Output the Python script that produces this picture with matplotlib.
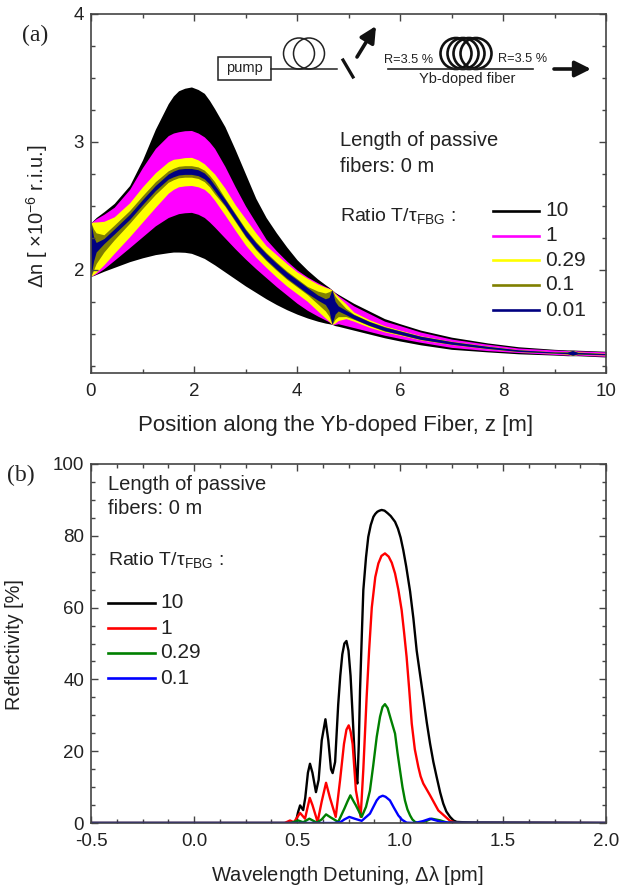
#!/usr/bin/env python3
"""Two panel figure: index change envelopes (a) and reflectivity spectra (b)."""

import matplotlib
matplotlib.use("Agg")
import matplotlib.pyplot as plt
from matplotlib.lines import Line2D
from matplotlib.patches import Circle, Rectangle
from matplotlib.ticker import MultipleLocator
from matplotlib.transforms import Affine2D

plt.rcParams["font.family"] = ["Liberation Sans", "DejaVu Sans"]
plt.rcParams["mathtext.default"] = "regular"
plt.rcParams["axes.unicode_minus"] = False

# panel (a): upper / lower envelope of the index change for each ratio
z_pos = [0, .05, .1, .25, .45, .75, 1, 1.25, 1.5, 1.6, 1.7, 1.82, 1.95, 2.08, 2.2, 2.3, 2.4, 2.6, 2.8, 3, 3.2, 3.4, 3.6, 3.8, 4,
         4.2, 4.4, 4.55, 4.62, 4.68, 4.74, 4.8, 4.95, 5.1, 5.4, 5.7, 6, 6.4, 7, 7.7, 8.3, 9, 9.25, 9.35, 9.45, 10]
upper_10 = [2.37, 2.39, 2.41, 2.455, 2.52, 2.66, 2.86, 3.10, 3.30, 3.36, 3.40, 3.42, 3.43, 3.41, 3.38, 3.325, 3.26, 3.12, 2.94, 2.75, 2.56, 2.41, 2.29, 2.18, 2.08,
            2.00, 1.93, 1.885, 1.865, 1.845, 1.825, 1.81, 1.775, 1.74, 1.68, 1.62, 1.58, 1.53, 1.475, 1.43, 1.40, 1.38, 1.375, 1.375, 1.373, 1.365]
upper_1 = [2.37, 2.385, 2.40, 2.435, 2.49, 2.63, 2.80, 2.95, 3.05, 3.07, 3.08, 3.088, 3.09, 3.07, 3.04, 3.0, 2.95, 2.81, 2.65, 2.50, 2.37, 2.24, 2.15, 2.07, 2.00,
           1.945, 1.90, 1.87, 1.858, 1.845, 1.82, 1.80, 1.76, 1.72, 1.66, 1.60, 1.565, 1.515, 1.46, 1.42, 1.39, 1.375, 1.37, 1.372, 1.368, 1.36]
upper_029 = [2.37, 2.375, 2.375, 2.38, 2.415, 2.525, 2.65, 2.76, 2.845, 2.865, 2.87, 2.878, 2.88, 2.86, 2.83, 2.79, 2.75, 2.64, 2.51, 2.40, 2.29, 2.19, 2.12, 2.05, 1.985,
             1.935, 1.89, 1.865, 1.855, 1.845, 1.815, 1.79, 1.735, 1.672, 1.612, 1.564, 1.53, 1.486, 1.442, 1.405, 1.377, 1.36, 1.362, 1.372, 1.36, 1.348]
upper_01 = [2.37, 2.32, 2.29, 2.275, 2.35, 2.465, 2.58, 2.69, 2.775, 2.795, 2.81, 2.815, 2.815, 2.805, 2.78, 2.74, 2.69, 2.562, 2.442, 2.322, 2.222, 2.137, 2.062, 1.992, 1.932,
            1.872, 1.835, 1.82, 1.83, 1.845, 1.795, 1.765, 1.70, 1.655, 1.60, 1.558, 1.525, 1.483, 1.441, 1.404, 1.376, 1.36, 1.36, 1.372, 1.358, 1.347]
upper_001 = [2.37, 2.26, 2.215, 2.245, 2.32, 2.435, 2.55, 2.66, 2.75, 2.772, 2.788, 2.793, 2.793, 2.783, 2.758, 2.718, 2.663, 2.553, 2.433, 2.313, 2.213, 2.128, 2.053, 1.983, 1.923,
             1.863, 1.805, 1.775, 1.785, 1.845, 1.755, 1.72, 1.685, 1.651, 1.597, 1.554, 1.523, 1.482, 1.44, 1.403, 1.376, 1.359, 1.358, 1.371, 1.356, 1.346]
lower_001 = [1.95, 2.07, 2.14, 2.205, 2.28, 2.395, 2.51, 2.62, 2.71, 2.728, 2.742, 2.747, 2.747, 2.737, 2.712, 2.672, 2.617, 2.507, 2.387, 2.267, 2.167, 2.082, 2.007, 1.937, 1.877,
             1.817, 1.765, 1.73, 1.685, 1.575, 1.655, 1.68, 1.651, 1.619, 1.568, 1.526, 1.497, 1.458, 1.42, 1.387, 1.364, 1.351, 1.346, 1.334, 1.344, 1.338]
lower_01 = [1.95, 2.0, 2.05, 2.14, 2.235, 2.365, 2.48, 2.59, 2.685, 2.705, 2.72, 2.725, 2.725, 2.715, 2.69, 2.65, 2.595, 2.498, 2.378, 2.258, 2.158, 2.073, 1.998, 1.928, 1.868,
            1.808, 1.735, 1.68, 1.64, 1.575, 1.615, 1.635, 1.636, 1.615, 1.565, 1.522, 1.495, 1.457, 1.419, 1.386, 1.363, 1.35, 1.344, 1.332, 1.342, 1.337]
lower_029 = [1.95, 1.965, 1.98, 2.04, 2.13, 2.26, 2.375, 2.49, 2.60, 2.63, 2.65, 2.657, 2.66, 2.65, 2.63, 2.595, 2.545, 2.43, 2.31, 2.195, 2.10, 2.02, 1.945, 1.875, 1.815,
             1.755, 1.68, 1.625, 1.60, 1.575, 1.585, 1.605, 1.62, 1.60, 1.553, 1.516, 1.49, 1.454, 1.418, 1.385, 1.363, 1.35, 1.342, 1.332, 1.34, 1.336]
lower_1 = [1.95, 1.96, 1.97, 2.01, 2.075, 2.175, 2.26, 2.345, 2.41, 2.425, 2.44, 2.447, 2.45, 2.435, 2.41, 2.375, 2.335, 2.25, 2.165, 2.085, 2.01, 1.94, 1.87, 1.805, 1.74,
           1.685, 1.64, 1.61, 1.595, 1.575, 1.575, 1.58, 1.565, 1.55, 1.52, 1.49, 1.465, 1.435, 1.395, 1.37, 1.355, 1.34, 1.335, 1.332, 1.335, 1.325]
lower_10 = [1.95, 1.957, 1.965, 1.99, 2.02, 2.065, 2.095, 2.12, 2.135, 2.14, 2.14, 2.138, 2.13, 2.11, 2.09, 2.065, 2.04, 1.985, 1.93, 1.875, 1.825, 1.775, 1.73, 1.69, 1.655,
            1.625, 1.60, 1.585, 1.58, 1.575, 1.565, 1.56, 1.545, 1.53, 1.50, 1.47, 1.445, 1.415, 1.38, 1.36, 1.345, 1.335, 1.33, 1.33, 1.33, 1.32]

ratio_labels_a = ["10", "1", "0.29", "0.1", "0.01"]
band_colors = ["black", "#ff00ff", "#ffff00", "#808000", "#000080"]

# panel (b): reflectivity spectra
wl_10 = [-0.5, .45, .48, .495, .505, .515, .53, .54, .553, .563, .575, .592, .605, .62, .638, .652, .665, .673, .685, .7, .71, .72, .73, .74, .75, .76, .77,
         .78, .787, .793, .80, .806, .815, .822, .835, .846, .858, .871, .88, .89, .9, .911, .925, .94, .955, .976, .99, 1.003, 1.016, 1.03, 1.049, 1.065, 1.081, 1.097,
         1.113, 1.13, 1.146, 1.162, 1.178, 1.195, 1.21, 1.225, 1.243, 1.26, 1.275, 1.35, 2.0]
refl_10 = [0, 0, .1, .4, 3, 4.9, 3.6, 7, 14, 16.5, 14, 8.6, 12, 23, 28.9, 23, 15, 13.9, 17, 33, 41, 47, 50, 50.7, 48, 41, 30,
           18.5, 12.5, 11, 22, 37, 53, 64.9, 74, 79.7, 83, 85.3, 86.1, 86.7, 87, 87.2, 87, 86.3, 85.5, 83.9, 82, 79.5, 76, 71.5, 64.5, 57, 48, 41.5,
           35.1, 28, 22.1, 17, 12.8, 8.5, 5.4, 3.2, 1.7, .7, .3, .1, 0]
wl_1 = [-0.5, .44, .466, .485, .5, .515, .539, .55, .562, .575, .6, .62, .641, .66, .688, .709, .728, .74, .751, .76, .77, .786, .809, .822, .83, .838, .85, .863, .88,
        .895, .91, .927, .945, .96, .976, .992, 1.008, 1.02, 1.032, 1.045, 1.057, 1.072, 1.089, 1.10, 1.113, 1.146, 1.186, 1.243, 1.27, 2.0]
refl_1 = [0, 0, .7, .2, 1.5, 2.8, 1.2, 4, 7, 5, .3, 6, 11.2, 7, 1.7, 11.9, 22, 26, 27.2, 25.5, 22, 9.1, 1.7, 15, 25, 35, 48, 60, 68.5,
          72.3, 74.4, 75.1, 74.2, 72.5, 69.5, 65, 59.3, 53, 46.3, 37, 27.7, 20.5, 15.6, 13, 11, 7.7, 3.5, .6, .1, 0]
wl_029 = [-0.5, .47, .506, .53, .56, .596, .62, .641, .665, .7, .73, .745, .759, .775, .785, .814, .835, .854, .87, .887, .903, .915, .927, .94, .955, .976, .988, 1.0,
          1.012, 1.024, 1.036, 1.049, 1.06, 1.073, 1.09, 1.12, 1.154, 1.194, 1.23, 2.0]
refl_029 = [0, 0, .7, .2, 1.2, .1, 1, 2.4, 1.5, .3, 4, 6, 7.7, 6, 5, 1.7, 4.5, 9, 16, 24, 29.6, 32.3, 33.1, 32, 29, 24.9, 19.5, 14.7,
            10, 6.3, 3.8, 2.1, 1, .3, 0, .4, 1.2, .75, .1, 0]
wl_01 = [-0.5, .68, .71, .73, .754, .78, .814, .854, .87, .887, .9, .916, .93, .951, .97, .992, 1.01, 1.032, 1.07, 1.11, 1.146, 1.2, 1.25, 2.0]
refl_01 = [0, 0, .2, 1.0, 1.7, 1.2, .6, 2.6, 4.4, 6.3, 7.2, 7.6, 7.3, 6.3, 4.3, 2.1, .9, .1, 0, .5, 1.2, .3, .05, 0]

ratio_labels_b = ["10", "1", "0.29", "0.1"]
spectrum_colors = ["black", "#ff0000", "#008000", "#0000ff"]

TEXT = "#222222"
FRAME = "#444444"

fig = plt.figure(figsize=(6.19, 8.86), dpi=100)
# pixel coordinates of the image, y going down, for the annotations
px = Affine2D().scale(1, -1).translate(0, 886)


def frame_axes(top, bottom):
    ax = fig.add_axes([91 / 619, (886 - bottom) / 886, 515 / 619, (bottom - top) / 886])
    for spine in ax.spines.values():
        spine.set_color(FRAME)
        spine.set_linewidth(1.2)
    ax.tick_params(which="both", direction="in", top=True, right=True, color=FRAME, width=1.0)
    ax.tick_params(which="major", length=5, labelsize=13.5, labelcolor=TEXT)
    ax.tick_params(which="minor", length=3)
    ax.tick_params(axis="x", which="major", pad=7)
    ax.tick_params(axis="y", which="major", pad=5)
    return ax


def note(x, y, text, size=14.5, **kwargs):
    fig.text(x, y, text, transform=px, fontsize=size, color=TEXT, va="center", **kwargs)


def key_lines(x0, x1, label_x, ys, colors, labels):
    for y, color, label in zip(ys, colors, labels):
        fig.add_artist(Line2D([x0, x1], [y, y], transform=px, color=color, lw=1.9))
        note(label_x, y, label, size=15)


def schematic():
    fig.add_artist(Rectangle((218, 57), 53, 23, transform=px, fill=False, ec="#222222", lw=1.1))
    note(244.5, 68, "pump", size=10.5, ha="center")
    fig.add_artist(Line2D([271, 337], [69, 69], transform=px, color="#222222", lw=1.1))
    for cx in (299, 309):
        fig.add_artist(Circle((cx, 53.5), 15.5, transform=px, fill=False, ec="#222222", lw=1.1))
    fig.add_artist(Line2D([343, 353], [60, 77], transform=px, color="#111111", lw=2.3))
    fig.add_artist(Line2D([388, 533], [69, 69], transform=px, color="#222222", lw=1.2))
    for cx in (456, 463, 469, 476):
        fig.add_artist(Circle((cx, 53.5), 15.5, transform=px, fill=False, ec="#111111", lw=1.9))
    note(409, 60, "R=3.5 %", size=9.2, ha="center")
    note(523, 59, "R=3.5 %", size=9.2, ha="center")
    note(467, 79, "Yb-doped fiber", size=10.5, ha="center")
    for start, end in (((357, 57), (376, 26)), ((554, 69), (591, 69))):
        ax_a.annotate("", xy=end, xytext=start, xycoords=px, textcoords=px, annotation_clip=False,
                      arrowprops=dict(arrowstyle="-|>", lw=2.6, color="#111111", mutation_scale=24, shrinkA=0, shrinkB=0))


# panel (a)
ax_a = frame_axes(14, 373)
uppers = [upper_10, upper_1, upper_029, upper_01, upper_001]
lowers = [lower_10, lower_1, lower_029, lower_01, lower_001]
for upper, lower, color in zip(uppers, lowers, band_colors):
    ax_a.fill_between(z_pos, lower, upper, color=color, lw=0)
ax_a.set_xlim(0, 10)
ax_a.set_ylim(1.195, 4)
ax_a.xaxis.set_major_locator(MultipleLocator(2))
ax_a.xaxis.set_minor_locator(MultipleLocator(1))
ax_a.yaxis.set_major_locator(MultipleLocator(1))
ax_a.yaxis.set_minor_locator(MultipleLocator(0.25))
ax_a.set_xlabel("Position along the Yb-doped Fiber, z [m]", fontsize=16, color=TEXT, va="center")
ax_a.xaxis.set_label_coords(0.474, -0.145)
ax_a.set_ylabel(r"$\Delta$n [ $\times$10$^{-6}$ r.i.u.]", fontsize=14.5, color=TEXT, va="center")
ax_a.yaxis.set_label_coords(-0.105, 0.437)

note(340, 141, "Length of passive")
note(340, 166, "fibers: 0 m")
note(340, 216, r"Ratio T/$\tau_{FBG}$ :", size=14)
key_lines(493, 539, 545, [211, 235.5, 260, 285, 310], band_colors, ratio_labels_a)
schematic()

# panel (b)
ax_b = frame_axes(464, 823)
wavelengths = [wl_10, wl_1, wl_029, wl_01]
spectra = [refl_10, refl_1, refl_029, refl_01]
for wl, refl, color in zip(wavelengths, spectra, spectrum_colors):
    ax_b.plot(wl, refl, color=color, lw=1.7)
ax_b.set_xlim(-0.5, 2.0)
ax_b.set_ylim(0, 100)
ax_b.xaxis.set_major_locator(MultipleLocator(0.5))
ax_b.xaxis.set_minor_locator(MultipleLocator(0.125))
ax_b.yaxis.set_major_locator(MultipleLocator(20))
ax_b.yaxis.set_minor_locator(MultipleLocator(5))
ax_b.set_xlabel(r"Wavelength Detuning, $\Delta\lambda$ [pm]", fontsize=14.5, color=TEXT, va="center")
ax_b.xaxis.set_label_coords(0.497, -0.145)
ax_b.set_ylabel("Reflectivity [%]", fontsize=14.3, color=TEXT, va="center")
ax_b.yaxis.set_label_coords(-0.148, 0.496)

note(108, 484, "Length of passive")
note(108, 509, "fibers: 0 m")
note(108, 560, r"Ratio T/$\tau_{FBG}$ :", size=14)
key_lines(108, 155, 160, [603, 628, 653, 678], spectrum_colors, ratio_labels_b)

fig.text(22, 35, "(a)", transform=px, fontsize=17, family="Liberation Serif", color=TEXT, va="center")
fig.text(7, 475, "(b)", transform=px, fontsize=17, family="Liberation Serif", color=TEXT, va="center")

fig.savefig("out.png", dpi=100)
